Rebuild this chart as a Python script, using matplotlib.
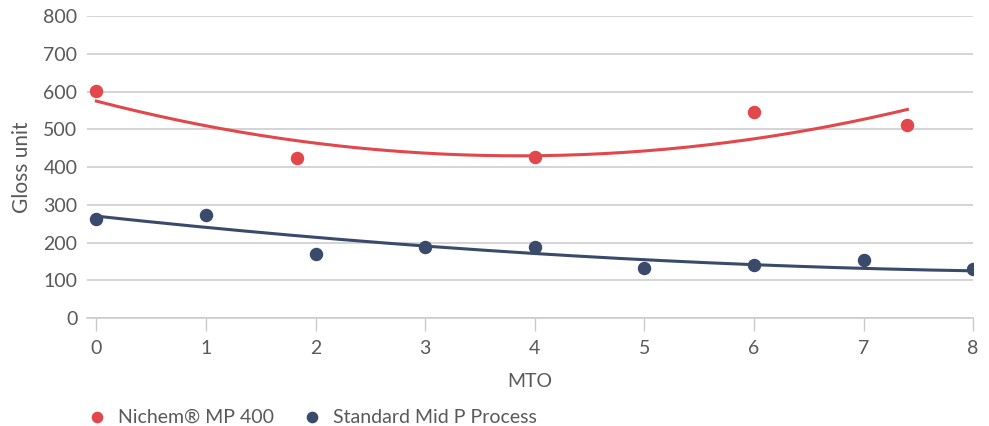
import matplotlib.pyplot as plt
import numpy as np

plt.rcParams['font.family'] = ['Lato', 'DejaVu Sans']

# data
nichem_x = [0, 1.83, 4, 6, 7.4]
nichem_y = [601, 424, 426, 546, 511]
std_x = [0, 1, 2, 3, 4, 5, 6, 7, 8]
std_y = [263, 274, 170, 188, 188, 132, 140, 154, 131]

# order-2 trendline coefficients (c2, c1, c0)
nichem_trend = [9.77, -75.3, 575]
std_trend = [1.66, -31.4, 270]

red = '#E2474B'
navy = '#3A4A6B'
grid_c = '#C9C9CE'
text_c = '#595959'
fs = 14

fig = plt.figure(figsize=(9.89, 4.26), dpi=100)
ax = fig.add_axes([0.088, 0.2535, 0.896, 0.7085])

for xs, coef, c in [(nichem_x, nichem_trend, red), (std_x, std_trend, navy)]:
    xx = np.linspace(min(xs), max(xs), 200)
    ax.plot(xx, np.polyval(coef, xx), color=c, lw=2.2, zorder=2)

ax.scatter(nichem_x, nichem_y, s=75, color=red, zorder=3, label='Nichem® MP 400')
ax.scatter(std_x, std_y, s=75, color=navy, zorder=3, label='Standard Mid P Process')

ax.set_xlim(-0.085, 8)
ax.set_ylim(0, 800)
ax.set_xticks(range(0, 9))
ax.set_yticks(range(0, 801, 100))
ax.yaxis.grid(True, color=grid_c, lw=1.1)
ax.set_axisbelow(True)
for s in ['top', 'right', 'left']:
    ax.spines[s].set_visible(False)
ax.spines['bottom'].set_color(grid_c)
ax.spines['bottom'].set_linewidth(1.1)
ax.tick_params(axis='y', length=0, pad=7, labelsize=fs, labelcolor=text_c)
ax.tick_params(axis='x', length=9.5, width=1, color=grid_c, pad=6, labelsize=fs, labelcolor=text_c)

ax.set_xlabel('MTO', fontsize=fs, color=text_c, labelpad=12)
ax.set_ylabel('Gloss unit', fontsize=fs + 1, color=text_c, labelpad=8)

leg = fig.legend(loc='center left', bbox_to_anchor=(0.080, 0.021), ncol=2, frameon=False,
                 fontsize=fs, handlelength=1.0, handletextpad=0.58, columnspacing=1.45,
                 markerscale=0.85, borderaxespad=0)
for t in leg.get_texts():
    t.set_color(text_c)

fig.savefig('out.png', dpi=100)
